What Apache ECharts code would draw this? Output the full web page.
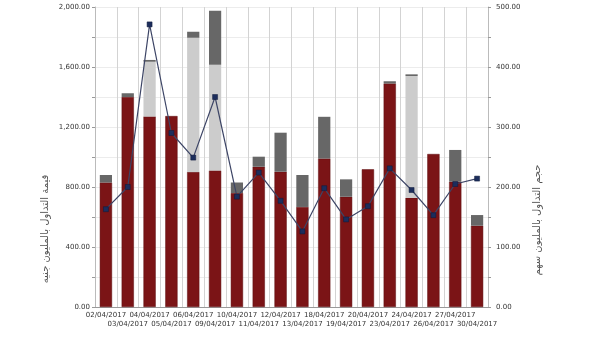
<!DOCTYPE html>
<html><head><meta charset="utf-8">
<script src="https://cdn.jsdelivr.net/npm/echarts@6/dist/echarts.min.js"></script>
<style>html,body{margin:0;padding:0;background:#fff}#c{width:600px;height:338px}</style>
</head><body><div id="c"></div>
<script>
const categories = ['02/04/2017','03/04/2017','04/04/2017','05/04/2017','06/04/2017','09/04/2017','10/04/2017','11/04/2017','12/04/2017','13/04/2017','18/04/2017','19/04/2017','20/04/2017','23/04/2017','24/04/2017','26/04/2017','27/04/2017','30/04/2017'];
const valueRed   = [830,1400,1270,1273,900,910,760,935,902,667,990,735,918,1490,728,1020,835,542];
const valueLight = [0,0,365,0,895,705,0,0,0,0,0,0,0,0,812,0,0,0];
const valueDark  = [50,25,12,0,40,360,70,67,260,213,278,116,0,15,11,0,212,71];
const volume     = [163,200,471,290,249,350,184,224,177,126,198,146,168,231,195,153,205,214];
const leftTitle = 'قيمة التداول بالمليون جنيه';
const rightTitle = 'حجم التداول بالمليون سهم';

const chart = echarts.init(document.getElementById('c'), null, {renderer:'canvas'});
const fmt = v => v.toLocaleString('en-US',{minimumFractionDigits:2,maximumFractionDigits:2});
const labelFont = {fontFamily:'DejaVu Sans', fontSize:7, color:'#333'};
chart.setOption({
  animation:false,
  grid:{left:95,right:112,top:7,bottom:31,containLabel:false},
  xAxis:{type:'category',data:categories,
    axisLine:{lineStyle:{color:'#999'}},
    axisTick:{show:false},
    splitLine:{show:true,lineStyle:{color:'#d3d3d3',width:1}},
    axisLabel:Object.assign({interval:0,margin:4,lineHeight:9,
      formatter:(v,i)=> i%2===0 ? v : '\n'+v},labelFont)},
  yAxis:[
    {type:'value',min:0,max:2000,interval:200,
      axisLine:{show:true,lineStyle:{color:'#bbb'}},
      axisTick:{show:true,length:3,lineStyle:{color:'#999'}},
      splitLine:{lineStyle:{color:'#ececec'}},
      axisLabel:Object.assign({margin:5,formatter:v=> v%400===0?fmt(v):''},labelFont)},
    {type:'value',min:0,max:500,interval:50,position:'right',
      axisLine:{show:true,lineStyle:{color:'#bbb'}},
      axisTick:{show:true,length:3,lineStyle:{color:'#999'}},
      splitLine:{show:false},
      axisLabel:Object.assign({margin:8,formatter:v=> v%100===0?fmt(v):''},labelFont)}
  ],
  series:[
    {type:'bar',stack:'a',data:valueRed,barWidth:'56%',itemStyle:{color:'#7b1416',borderColor:'#5e0e10',borderWidth:0.5}},
    {type:'bar',stack:'a',data:valueLight,itemStyle:{color:'#cccccc'}},
    {type:'bar',stack:'a',data:valueDark,itemStyle:{color:'#676767'}},
    {type:'line',yAxisIndex:1,data:volume,symbol:'rect',symbolSize:5,
      lineStyle:{color:'#3d4566',width:1.2},
      itemStyle:{color:'#1c2d5c',borderColor:'#0e1a3a',borderWidth:0.5},z:5}
  ],
  graphic:[
    {type:'text',x:45,y:229,rotation:Math.PI/2,
     style:{text:leftTitle,font:'10px "DejaVu Sans"',fill:'#555',align:'center',verticalAlign:'middle'}},
    {type:'text',x:537,y:220,rotation:Math.PI/2,
     style:{text:rightTitle,font:'10px "DejaVu Sans"',fill:'#555',align:'center',verticalAlign:'middle'}}
  ]
});
</script></body></html>
